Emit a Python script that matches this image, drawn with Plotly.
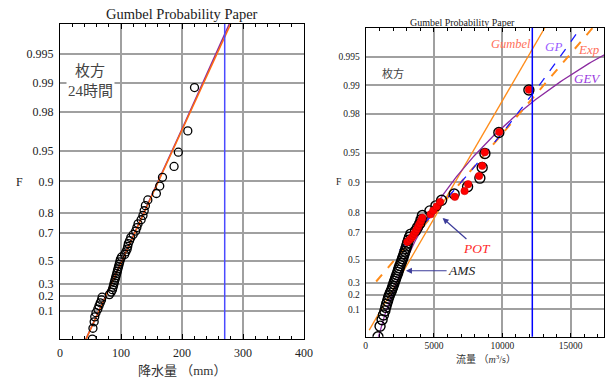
import numpy as np
import plotly.graph_objects as go

SERIF = "'Liberation Serif', 'Times New Roman', 'Noto Sans CJK JP', serif"

# ---------------- axis tick labels (F on Gumbel paper) ----------------
f_ticks = [0.1, 0.2, 0.3, 0.5, 0.7, 0.8, 0.9, 0.95, 0.98, 0.99, 0.995]
f_tick_text = ["0.1", "0.2", "0.3", "0.5", "0.7", "0.8", "0.9", "0.95", "0.98", "0.99", "0.995"]

# ---------------- plotting positions of the 50 annual values ----------------
F_annual = [0.0112, 0.0311, 0.0511, 0.0710, 0.0910, 0.1109, 0.1309, 0.1508, 0.1708, 0.1907,
            0.2107, 0.2306, 0.2506, 0.2706, 0.2905, 0.3105, 0.3304, 0.3504, 0.3703, 0.3903,
            0.4102, 0.4302, 0.4501, 0.4701, 0.4900, 0.5100, 0.5299, 0.5499, 0.5698, 0.5898,
            0.6097, 0.6297, 0.6496, 0.6696, 0.6896, 0.7095, 0.7295, 0.7494, 0.7694, 0.7893,
            0.8093, 0.8292, 0.8492, 0.8691, 0.8891, 0.9090, 0.9290, 0.9489, 0.9689, 0.9888]

# left panel: 24-hour rainfall (mm), Hirakata
rain_mm = [53, 54, 56, 57, 59, 62, 64, 66, 68, 69,
           81, 84, 86, 87, 88, 89, 90, 91, 92, 93,
           94, 95, 96, 97, 98, 99, 101, 106, 108, 110,
           111, 112, 114, 116, 120, 124, 126, 128, 133, 136,
           138, 140, 144, 158, 163.5, 168, 187, 194, 209.5, 220.5]

# right panel: annual maximum series of discharge (m3/s)
ams_flow = [900, 1050, 1200, 1300, 1400, 1470, 1530, 1600, 1660, 1720,
            1800, 1880, 1950, 2000, 2060, 2120, 2180, 2230, 2290, 2350,
            2400, 2450, 2510, 2580, 2640, 2700, 2760, 2820, 2880, 2940,
            3000, 3060, 3130, 3200, 3300, 3650, 3800, 3950, 4050, 4150,
            4700, 5140, 5560, 6480, 7460, 8360, 8530, 8730, 9750, 11950]

# right panel: peaks over threshold (m3/s) and their annual non-exceedance F
pot_flow = [3050, 3200, 3350, 3450, 3550, 3650, 3750, 3850, 3950, 4050,
            4150, 4750, 4950, 5200, 5450, 6530, 7240, 7500, 8300, 8530,
            8720, 9775, 11950]
pot_F = [0.6384, 0.6512, 0.6643, 0.6776, 0.6912, 0.7052, 0.7193, 0.7338, 0.7485, 0.7635,
         0.7789, 0.7945, 0.8105, 0.8268, 0.8434, 0.8603, 0.8776, 0.8953, 0.9133, 0.9316,
         0.9503, 0.9694, 0.9889]

# fitted distributions (parameters)
gum_left = dict(mu=90.2, alpha=31.6)
gev_left = dict(xi=90.2, alpha=31.6, k=0.004)
gum_right = dict(mu=2604, alpha=1752)
gev_right = dict(xi=2470, alpha=1250, k=-0.27)
exp_right = dict(x0=3188, beta=2575, y0=0.78)
gp_right = dict(x0=3000, alpha=2842, k=0.06, y0=0.78)
design_left = 270
design_right = 12200


def red_var(F):
    F = np.asarray(F, dtype=float)
    return -np.log(-np.log(F))


def gev_q(y, xi, alpha, k):
    return xi + alpha / k * (1 - np.exp(-k * y))


fig = go.Figure()

# ---------------- left panel ----------------
yl = np.linspace(-1.6, 6.2, 200)
fig.add_trace(go.Scatter(x=gev_q(yl, **gev_left), y=yl, mode="lines",
                         line=dict(color="#8b2aa0", width=1.5), xaxis="x", yaxis="y"))
fig.add_trace(go.Scatter(x=gum_left["mu"] + gum_left["alpha"] * yl, y=yl, mode="lines",
                         line=dict(color="#ff6a10", width=1.5), xaxis="x", yaxis="y"))
fig.add_trace(go.Scatter(x=rain_mm, y=red_var(F_annual), mode="markers",
                         marker=dict(symbol="circle-open", size=8, color="black",
                                     line=dict(width=1.3, color="black")),
                         xaxis="x", yaxis="y"))

# ---------------- right panel ----------------
yg = np.linspace(-1.34, 6.2, 100)
fig.add_trace(go.Scatter(x=gum_right["mu"] + gum_right["alpha"] * yg, y=yg, mode="lines",
                         line=dict(color="#ff8c1a", width=1.3), xaxis="x2", yaxis="y2"))
yv = np.linspace(-1.7, 6.2, 200)
fig.add_trace(go.Scatter(x=gev_q(yv, **gev_right), y=yv, mode="lines",
                         line=dict(color="#8b2aa0", width=1.3), xaxis="x2", yaxis="y2"))
ye = np.linspace(-0.16, 6.2, 100)
fig.add_trace(go.Scatter(x=exp_right["x0"] + exp_right["beta"] * (ye - exp_right["y0"]), y=ye,
                         mode="lines", line=dict(color="#ff8c1a", width=2, dash="dash"),
                         xaxis="x2", yaxis="y2"))
yp = np.linspace(0.6, 6.2, 100)
fig.add_trace(go.Scatter(x=gp_right["x0"] + gp_right["alpha"] / gp_right["k"]
                         * (1 - np.exp(-gp_right["k"] * (yp - gp_right["y0"]))),
                         y=yp, mode="lines", line=dict(color="#1a1aff", width=1.3, dash="dash"),
                         xaxis="x2", yaxis="y2"))
fig.add_trace(go.Scatter(x=ams_flow, y=red_var(F_annual), mode="markers",
                         marker=dict(symbol="circle-open", size=10, color="black",
                                     line=dict(width=1.4, color="black")),
                         xaxis="x2", yaxis="y2"))
fig.add_trace(go.Scatter(x=pot_flow, y=red_var(pot_F), mode="markers",
                         marker=dict(symbol="circle", size=7.5, color="#ff0000",
                                     line=dict(width=0.5, color="#cc0000")),
                         xaxis="x2", yaxis="y2"))

# design lines
fig.add_shape(type="line", xref="x", yref="y domain", x0=design_left, x1=design_left, y0=0, y1=1,
              line=dict(color="#4a4aff", width=1.5))
fig.add_shape(type="line", xref="x2", yref="y2 domain", x0=design_right, x1=design_right, y0=0, y1=1,
              line=dict(color="#0000ff", width=1.5))

grid = "#a0a0a0"
common_y = dict(range=[-1.5, 6], tickmode="array", tickvals=list(red_var(f_ticks)),
                ticktext=f_tick_text, ticks="", showline=True, linecolor="black", linewidth=1,
                mirror=True, showgrid=True, gridcolor=grid, gridwidth=1.5, zeroline=False,
                ticklabelstandoff=3, automargin=False)

fig.update_layout(
    width=607, height=379, margin=dict(l=0, r=0, t=0, b=0, autoexpand=False),
    paper_bgcolor="white", plot_bgcolor="white", showlegend=False,
    font=dict(family=SERIF, color="#222"),
    xaxis=dict(domain=[60 / 607, 304 / 607], range=[0, 400], tick0=0, dtick=100,
               ticks="inside", ticklen=5, tickcolor="black", showline=True, linecolor="black",
               linewidth=1, mirror="ticks", showgrid=True, gridcolor=grid, gridwidth=1.5,
               zeroline=False, tickfont=dict(size=12, family=SERIF, color="#222"),
               minor=dict(dtick=20, tick0=0, ticks="inside", ticklen=3, tickcolor="black",
                          showgrid=False),
               ticklabelstandoff=3, automargin=False, anchor="y"),
    yaxis=dict(domain=[1 - 339 / 379, 1 - 24 / 379], anchor="x",
               tickfont=dict(size=12, family=SERIF, color="#222"), **common_y),
    xaxis2=dict(domain=[365.7 / 607, 604 / 607], range=[0, 17450], tick0=0, dtick=5000,
                tickformat="d",
                ticks="inside", ticklen=4, tickcolor="black", showline=True, linecolor="black",
                linewidth=1, mirror="ticks", showgrid=True, gridcolor=grid, gridwidth=1.5,
                zeroline=False, tickfont=dict(size=9.5, family=SERIF, color="#222"),
                minor=dict(dtick=1000, tick0=0, ticks="inside", ticklen=3, tickcolor="black",
                           showgrid=False),
                automargin=False, anchor="y2"),
    yaxis2=dict(domain=[1 - 336.7 / 379, 1 - 27.7 / 379], anchor="x2",
                tickfont=dict(size=9.5, family=SERIF, color="#222"), **common_y),
)


def note(text, x, y, size, color="#222", xref="paper", yref="paper", **kw):
    if xref == "paper":
        x = x / 607
    if yref == "paper":
        y = 1 - y / 379
    d = dict(text=text, x=x, y=y, xref=xref, yref=yref, showarrow=False,
             xanchor="center", yanchor="middle", font=dict(size=size, color=color))
    d.update(kw)
    return d


ann = [
    note("Gumbel Probability Paper", 182, 14, 14.5),
    note("Gumbel Probability Paper", 463, 22, 10),
    note("降水量 （mm）", 182, 370, 13, "#333"),
    note("流量 （<i>m</i><sup>3</sup>/s）", 486, 359, 10, "#333"),
    note("F", 19.5, 182, 12),
    note("F", 338.5, 182, 9.5),
    note("枚方", 49.4, 4.89, 15, "#444", xref="x", yref="y", bgcolor="white"),
    note("24時間", 49.4, 4.40, 15, "#444", xref="x", yref="y", bgcolor="white"),
    note("枚方", 2019, 4.90, 11, "#444", xref="x2", yref="y2"),
    note("<i>Gumbel</i>", 10650, 5.60, 12.5, "#ff6f5a", xref="x2", yref="y2"),
    note("<i>GP</i>", 13724, 5.55, 13, "#9a5cff", xref="x2", yref="y2"),
    note("<i>Exp</i>", 16335, 5.47, 13, "#ff6f5a", xref="x2", yref="y2"),
    note("<i>GEV</i>", 16210, 4.77, 13, "#9a3ae0", xref="x2", yref="y2"),
]
ann.append(dict(text="<i>POT</i>", xref="x2", yref="y2", x=5633, y=1.382,
                axref="x2", ayref="y2", ax=8120, ay=0.652, showarrow=True,
                arrowhead=2, arrowsize=1, arrowwidth=1.2, arrowcolor="#3c3c9a",
                font=dict(size=13.5, color="#ff2a2a")))
ann.append(dict(text="<i>AMS</i>", xref="x2", yref="y2", x=2948, y=0.101,
                axref="x2", ayref="y2", ax=7023, ay=0.101, showarrow=True,
                arrowhead=2, arrowsize=1, arrowwidth=1.2, arrowcolor="#3c3c9a",
                font=dict(size=13.5, color="#222")))
fig.update_layout(annotations=ann)

fig.write_html("out.html", config={"displayModeBar": False},
               post_script="document.body.style.margin='0';document.body.style.padding='0';")
